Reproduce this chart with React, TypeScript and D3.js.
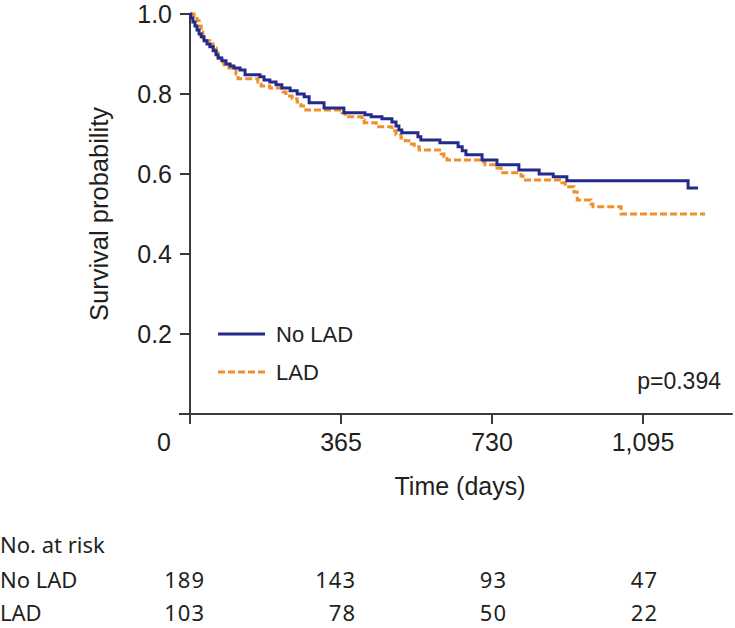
import React from "react";
import * as d3 from "d3";

// ---- data ----
const noLadDays = [0, 2, 7, 12, 17, 22, 27, 34, 41, 48, 56, 63, 68, 77, 87, 97, 106, 121, 133, 169, 179, 193, 208, 222, 242, 259, 276, 288, 324, 372, 423, 438, 464, 488, 498, 505, 512, 551, 558, 604, 648, 658, 667, 706, 742, 795, 844, 878, 911, 1204, 1228];
const noLadSurv = [1.0, 0.99, 0.98, 0.97, 0.96, 0.95, 0.943, 0.933, 0.925, 0.918, 0.908, 0.898, 0.89, 0.883, 0.875, 0.87, 0.865, 0.86, 0.848, 0.843, 0.835, 0.83, 0.823, 0.815, 0.808, 0.8, 0.793, 0.778, 0.765, 0.753, 0.748, 0.743, 0.738, 0.73, 0.72, 0.71, 0.703, 0.693, 0.685, 0.678, 0.668, 0.658, 0.648, 0.635, 0.623, 0.61, 0.6, 0.593, 0.583, 0.565, 0.565];

const ladDays = [0, 10, 17, 22, 27, 31, 36, 48, 56, 63, 68, 75, 82, 94, 111, 116, 164, 172, 193, 225, 232, 247, 259, 268, 280, 367, 375, 416, 421, 450, 488, 498, 510, 520, 529, 542, 554, 607, 614, 621, 701, 713, 742, 752, 800, 805, 899, 907, 928, 936, 969, 974, 1042, 1245];
const ladSurv = [1.0, 0.993, 0.983, 0.97, 0.955, 0.94, 0.933, 0.925, 0.915, 0.903, 0.89, 0.88, 0.873, 0.865, 0.85, 0.838, 0.83, 0.82, 0.815, 0.805, 0.795, 0.788, 0.78, 0.77, 0.76, 0.753, 0.743, 0.735, 0.728, 0.718, 0.708, 0.698, 0.69, 0.683, 0.675, 0.668, 0.66, 0.65, 0.643, 0.635, 0.63, 0.623, 0.615, 0.603, 0.595, 0.585, 0.578, 0.568, 0.555, 0.535, 0.525, 0.518, 0.5, 0.5];

const xTicks = [0, 365, 730, 1095];
const xTickLabels = ["0", "365", "730", "1,095"];
const yTicks = [0.2, 0.4, 0.6, 0.8, 1.0];
const yTickLabels = ["0.2", "0.4", "0.6", "0.8", "1.0"];

const groups = ["No LAD", "LAD"];
const riskNoLad = [189, 143, 93, 47];
const riskLad = [103, 78, 50, 22];
const pValueText = "p=0.394";

const BLUE = "#232a8c";
const ORANGE = "#f0902c";
const AXIS = "#3a3a3a";
const TEXT = "#231f20";
const FONT = "'Liberation Sans', Arial, sans-serif";
const TFONT = "'Noto Sans', sans-serif";

export default function App() {
  const W = 735, H = 628;
  const x = d3.scaleLinear().domain([0, 1095]).range([190, 643]);
  const y = d3.scaleLinear().domain([0, 1]).range([414, 14]);
  const line = d3
    .line<[number, number]>()
    .x((d) => x(d[0]))
    .y((d) => y(d[1]))
    .curve(d3.curveStepAfter);
  const noLad: [number, number][] = noLadDays.map((d, i) => [d, noLadSurv[i]]);
  const lad: [number, number][] = ladDays.map((d, i) => [d, ladSurv[i]]);
  const xEnd = x(1312);

  return (
    <svg
      width={W}
      height={H}
      style={{ position: "absolute", left: 0, top: 0, background: "#fff" }}
    >
      {/* axes */}
      <line x1={x(0)} x2={x(0)} y1={y(1)} y2={y(0) + 10} stroke={AXIS} strokeWidth={2} />
      <line x1={x(0) - 11} x2={xEnd} y1={y(0)} y2={y(0)} stroke={AXIS} strokeWidth={2} />
      {yTicks.map((t, i) => (
        <g key={"yt" + i}>
          <line x1={x(0) - 10} x2={x(0)} y1={y(t)} y2={y(t)} stroke={AXIS} strokeWidth={2} />
          <text
            x={172}
            y={y(t)}
            dy="0.36em"
            textAnchor="end"
            fontFamily={FONT}
            fontSize={25}
            fill={TEXT}
          >
            {yTickLabels[i]}
          </text>
        </g>
      ))}
      {xTicks.map((t, i) => (
        <g key={"xt" + i}>
          <line x1={x(t)} x2={x(t)} y1={y(0)} y2={y(0) + 10} stroke={AXIS} strokeWidth={2} />
          <text
            x={i === 0 ? x(t) - 19 : x(t)}
            y={451}
            textAnchor={i === 0 ? "end" : "middle"}
            fontFamily={FONT}
            fontSize={25}
            fill={TEXT}
          >
            {xTickLabels[i]}
          </text>
        </g>
      ))}
      <text x={460} y={495} textAnchor="middle" fontFamily={FONT} fontSize={25} fill={TEXT}>
        Time (days)
      </text>
      <text
        transform={`translate(108, 214) rotate(-90)`}
        textAnchor="middle"
        fontFamily={FONT}
        fontSize={25.5}
        fill={TEXT}
      >
        Survival probability
      </text>

      {/* curves */}
      <path d={line(lad) || ""} fill="none" stroke={ORANGE} strokeWidth={3} strokeDasharray="7,3" />
      <path d={line(noLad) || ""} fill="none" stroke={BLUE} strokeWidth={3} />

      {/* legend */}
      <line x1={218} x2={265} y1={334} y2={334} stroke={BLUE} strokeWidth={3} />
      <text x={276} y={342} fontFamily={FONT} fontSize={22} fill={TEXT}>
        {groups[0]}
      </text>
      <line x1={218} x2={265} y1={372} y2={372} stroke={ORANGE} strokeWidth={3} strokeDasharray="7,3" />
      <text x={276} y={380} fontFamily={FONT} fontSize={22} fill={TEXT}>
        {groups[1]}
      </text>
      <text x={721} y={389} textAnchor="end" fontFamily={FONT} fontSize={23} fill={TEXT}>
        {pValueText}
      </text>

      {/* risk table */}
      <text x={0} y={553} fontFamily={TFONT} fontSize={22} fill={TEXT}>
        No. at risk
      </text>
      <text x={0} y={588} fontFamily={TFONT} fontSize={22} fill={TEXT}>
        {groups[0]}
      </text>
      <text x={0} y={621} fontFamily={TFONT} fontSize={22} fill={TEXT}>
        {groups[1]}
      </text>
      {xTicks.map((t, i) => (
        <g key={"rk" + i}>
          <text x={x(t) + 15} y={588} textAnchor="end" fontFamily={TFONT} fontSize={22} fill={TEXT} letterSpacing={1}>
            {riskNoLad[i]}
          </text>
          <text x={x(t) + 15} y={621} textAnchor="end" fontFamily={TFONT} fontSize={22} fill={TEXT} letterSpacing={1}>
            {riskLad[i]}
          </text>
        </g>
      ))}
    </svg>
  );
}
